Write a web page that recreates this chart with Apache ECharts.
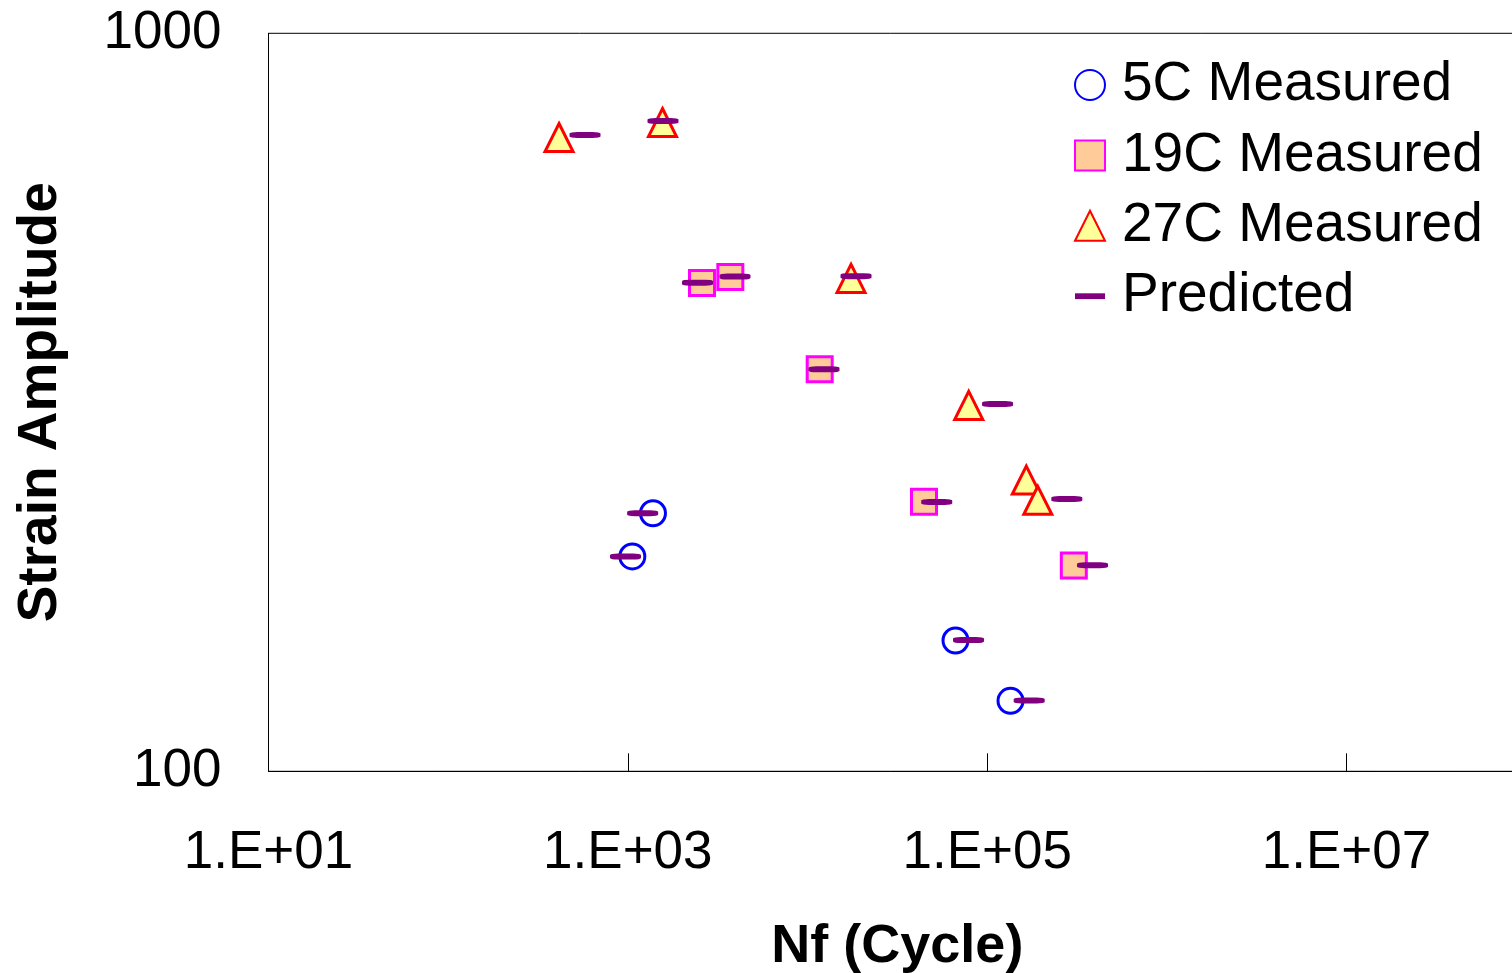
<!DOCTYPE html>
<html>
<head>
<meta charset="utf-8">
<script src="https://cdn.jsdelivr.net/npm/echarts@6/dist/echarts.min.js"></script>
<style>
  html, body { margin: 0; padding: 0; background: #ffffff; }
  #chart { width: 1512px; height: 973px; }
</style>
</head>
<body>
<div id="chart"></div>
<script>
// Fatigue life (cycles to failure) vs strain amplitude, measured and predicted.
// Each point is [Nf, strain amplitude].
const measured5C = [
  [1380, 223.7],
  [1059, 195.5],
  [66640, 150.4],
  [134850, 124.6]
];
const measured19C = [
  [2587, 458.9],
  [3718, 467.6],
  [11690, 350.5],
  [44500, 231.9],
  [303500, 190.1]
];
const measured27C = [
  [414, 722.4],
  [1559, 757.0],
  [17470, 465.4],
  [78940, 313.2],
  [165100, 248.1],
  [191300, 232.9]
];
const predicted = [
  [577.6, 728.1],
  [1569, 760.7],
  [2442, 459.3],
  [3948, 468.1],
  [18620, 468.7],
  [12350, 350.5],
  [114200, 314.5],
  [52380, 231.7],
  [277500, 233.9],
  [385700, 190.2],
  [1209, 223.7],
  [970.5, 195.4],
  [78720, 150.6],
  [171300, 124.7]
];
const seriesNames = ['5C Measured', '19C Measured', '27C Measured', 'Predicted'];
const xTickValues = [1e1, 1e3, 1e5, 1e7];
const xMinorTickValues = [1e3, 1e5, 1e7];
const yTickValues = [100, 1000];

const FONT = '"Liberation Sans", Arial, Helvetica, sans-serif';

function sciLabel(v) {
  const e = Math.round(Math.log10(v));
  return '1.E+' + (e < 10 ? '0' + e : String(e));
}

const chart = echarts.init(document.getElementById('chart'), null, { renderer: 'canvas' });

chart.setOption({
  animation: false,
  backgroundColor: '#ffffff',
  grid: {
    left: 268.5,
    top: 33.3,
    width: 1257.7,
    height: 738,
    outerBoundsMode: 'none',
    containLabel: false,
    show: true,
    borderColor: '#000000',
    borderWidth: 1,
    backgroundColor: 'transparent'
  },
  legend: {
    orient: 'vertical',
    left: 1074,
    top: 57,
    padding: 0,
    itemWidth: 30,
    itemHeight: 30,
    itemGap: 14.4,
    textStyle: {
      fontFamily: FONT,
      fontSize: 55,
      color: '#000000',
      lineHeight: 56,
      padding: [0, 0, 0, 12]
    },
    data: [
      { name: seriesNames[0] },
      { name: seriesNames[1] },
      { name: seriesNames[2] },
      { name: seriesNames[3], icon: 'path://M0,0H31V6H0Z' }
    ]
  },
  xAxis: {
    type: 'log',
    logBase: 10,
    min: 1e1,
    max: 1e8,
    name: 'Nf (Cycle)',
    nameLocation: 'middle',
    nameGap: 149,
    nameTextStyle: { fontFamily: FONT, fontSize: 54, fontWeight: 'bold', color: '#000000' },
    axisLine: { show: true, lineStyle: { color: '#000000', width: 1 } },
    axisTick: {
      show: true,
      inside: true,
      length: 18,
      customValues: xMinorTickValues,
      lineStyle: { color: '#000000', width: 1 }
    },
    axisLabel: {
      show: true,
      customValues: xTickValues,
      margin: 56,
      fontFamily: FONT,
      fontSize: 53,
      color: '#000000',
      formatter: sciLabel
    },
    splitLine: { show: false },
    minorTick: { show: false }
  },
  yAxis: {
    type: 'log',
    logBase: 10,
    min: 100,
    max: 1000,
    name: 'Strain Amplitude',
    nameLocation: 'middle',
    nameGap: 200,
    nameTextStyle: { fontFamily: FONT, fontSize: 55, fontWeight: 'bold', color: '#000000' },
    axisLine: { show: true, lineStyle: { color: '#000000', width: 1 } },
    axisTick: { show: false },
    axisLabel: {
      show: true,
      customValues: yTickValues,
      margin: 47,
      fontFamily: FONT,
      fontSize: 53,
      color: '#000000',
      padding: [8, 0, 0, 0],
      formatter: function (v) { return String(Math.round(v)); }
    },
    splitLine: { show: false }
  },
  series: [
    {
      name: seriesNames[0],
      type: 'scatter',
      data: measured5C,
      symbol: 'circle',
      symbolSize: 25,
      itemStyle: { color: '#ffffff', borderColor: '#0000ff', borderWidth: 3, opacity: 1 },
      emphasis: { disabled: true },
      z: 2
    },
    {
      name: seriesNames[1],
      type: 'scatter',
      data: measured19C,
      symbol: 'rect',
      symbolSize: 25,
      itemStyle: { color: '#ffcc99', borderColor: '#ff00ff', borderWidth: 3, opacity: 1 },
      emphasis: { disabled: true },
      z: 2
    },
    {
      name: seriesNames[2],
      type: 'scatter',
      data: measured27C,
      symbol: 'triangle',
      symbolSize: 28,
      itemStyle: { color: '#ffff99', borderColor: '#ff0000', borderWidth: 3, opacity: 1 },
      emphasis: { disabled: true },
      z: 2
    },
    {
      name: seriesNames[3],
      type: 'scatter',
      data: predicted,
      symbol: 'roundRect',
      symbolSize: [31, 6],
      itemStyle: { color: '#800080', opacity: 1 },
      emphasis: { disabled: true },
      z: 3
    }
  ]
});
</script>
</body>
</html>
